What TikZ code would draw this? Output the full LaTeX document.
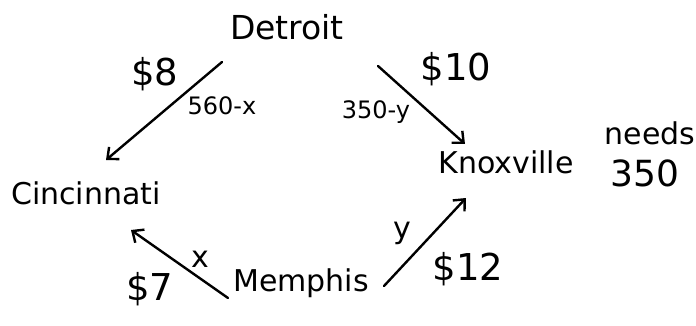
\documentclass[tikz,border=0pt]{standalone}
\usepackage{fontspec}
\setmainfont{DejaVu Sans}
\usetikzlibrary{arrows.meta}
\begin{document}
\begin{tikzpicture}[x=1pt,y=-1pt,
  city/.style={font=\fontsize{30}{32}\selectfont, inner sep=0pt},
  cost/.style={font=\fontsize{37}{39}\selectfont, inner sep=0pt},
  flow/.style={font=\fontsize{24}{26}\selectfont, inner sep=0pt},
  var/.style={font=\fontsize{30}{32}\selectfont, inner sep=0pt},
  route/.style={line width=2.4pt, line cap=round, -{Straight Barb[length=9pt,width=16pt,line width=2.4pt]}}]
\useasboundingbox (0,0) rectangle (696,326);
\node[city, font=\fontsize{33}{35}\selectfont] (det) at (287,27) {Detroit};
\node[city] (cin) at (86,193) {Cincinnati};
\node[city] (kno) at (506,162) {Knoxville};
\node[city] (mem) at (301,283) {Memphis};
\node[city] (needs) at (650,133) {needs};
\node[city, font=\fontsize{36}{38}\selectfont] (n350) at (645,173) {350};
\node[cost] (c8) at (155,74) {\$8};
\node[cost] (c10) at (456,69) {\$10};
\node[cost] (c7) at (150,289) {\$7};
\node[cost] (c12) at (468,269) {\$12};
\node[flow] (f1) at (222,106) {560-x};
\node[flow] (f2) at (376,112) {350-y};
\node[var] (vx) at (200,259) {x};
\node[var] (vy) at (402,233) {y};
\coordinate (d1) at (222,62);
\coordinate (c1) at (106,160);
\coordinate (d2) at (378,66);
\coordinate (k1) at (465,144);
\coordinate (m1) at (228,298);
\coordinate (c2) at (131,230);
\coordinate (m2) at (384,286);
\coordinate (k2) at (466,198);
\draw[route] (d1) -- (c1);
\draw[route] (d2) -- (k1);
\draw[route] (m1) -- (c2);
\draw[route] (m2) -- (k2);
\end{tikzpicture}
\end{document}
